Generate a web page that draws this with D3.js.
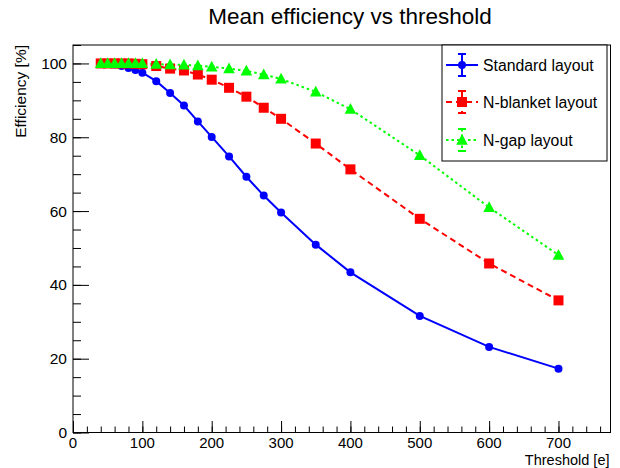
<!DOCTYPE html>
<html>
<head>
<meta charset="utf-8">
<script src="https://cdn.jsdelivr.net/npm/d3@7"></script>
<style>
  html, body { margin: 0; padding: 0; background: #fff; }
  svg { display: block; font-family: "Liberation Sans", Arial, Helvetica, sans-serif; }
</style>
</head>
<body>
<svg id="chart" width="620" height="468"></svg>
<script>
// Threshold scan points (electrons)
const thresholds = [40, 50, 60, 70, 80, 90, 100, 120, 140, 160, 180, 200, 225, 250, 275, 300, 350, 400, 500, 600, 700];

// Mean efficiency [%] per layout
const standardEff = [100, 99.9, 99.7, 99.3, 98.8, 98.2, 97.5, 95.2, 92.0, 88.6, 84.3, 80.1, 74.8, 69.3, 64.2, 59.6, 50.9, 43.4, 31.6, 23.2, 17.3];
const blanketEff  = [100, 100, 100, 100, 100, 99.9, 99.8, 99.3, 98.6, 98.1, 97.0, 95.6, 93.4, 91.0, 88.0, 85.0, 78.3, 71.3, 57.9, 45.8, 35.8];
const gapEff      = [100, 100, 100, 100, 100, 100, 100, 99.8, 99.7, 99.6, 99.4, 99.1, 98.6, 98.0, 97.0, 95.8, 92.3, 87.6, 75.1, 61.0, 48.1];

const seriesNames = ["Standard layout", "N-blanket layout", "N-gap layout"];
const xTicks = [0, 100, 200, 300, 400, 500, 600, 700];
const yTicks = [0, 20, 40, 60, 80, 100];

const series = [
  { name: seriesNames[0], values: standardEff, color: "#0000ff", dash: null,  marker: "circle" },
  { name: seriesNames[1], values: blanketEff,  color: "#ff0000", dash: "6,4", marker: "square" },
  { name: seriesNames[2], values: gapEff,      color: "#00ff00", dash: "2.5,3", marker: "triangle" }
];

const svg = d3.select("#chart");
const frame = { left: 73, right: 610.5, top: 45, bottom: 432.5 };

const x = d3.scaleLinear().domain([0, 775]).range([frame.left, frame.right]);
const y = d3.scaleLinear().domain([0, 105]).range([frame.bottom, frame.top]);

// Title
svg.append("text")
  .attr("x", 350).attr("y", 24)
  .attr("text-anchor", "middle")
  .attr("font-size", 22.5)
  .text("Mean efficiency vs threshold");

// Frame
svg.append("rect")
  .attr("x", frame.left).attr("y", frame.top)
  .attr("width", frame.right - frame.left)
  .attr("height", frame.bottom - frame.top)
  .attr("fill", "none").attr("stroke", "#000").attr("stroke-width", 1);

// X axis: ticks pointing into the frame
const xMajorLen = 11.5, xMinorLen = 6;
const xAxisG = svg.append("g").attr("transform", `translate(0,${frame.bottom})`);
xAxisG.call(d3.axisTop(x).tickValues(d3.range(0, 776, 20)).tickSize(xMinorLen).tickFormat(""))
  .call(g => g.select(".domain").remove());
xAxisG.append("g").call(d3.axisTop(x).tickValues(xTicks).tickSize(xMajorLen).tickFormat(""))
  .call(g => g.select(".domain").remove());
xAxisG.append("line").attr("x1", frame.left).attr("x2", frame.right).attr("stroke", "#000");
svg.append("g").selectAll("text").data(xTicks).join("text")
  .attr("x", d => x(d)).attr("y", 448.3)
  .attr("text-anchor", "middle").attr("font-size", 15)
  .text(d => d);

// Y axis: ticks pointing into the frame
const yMajorLen = 16, yMinorLen = 8;
const yAxisG = svg.append("g").attr("transform", `translate(${frame.left},0)`);
yAxisG.call(d3.axisRight(y).tickValues(d3.range(0, 106, 5)).tickSize(yMinorLen).tickFormat(""))
  .call(g => g.select(".domain").remove());
yAxisG.append("g").call(d3.axisRight(y).tickValues(yTicks).tickSize(yMajorLen).tickFormat(""))
  .call(g => g.select(".domain").remove());
svg.append("g").selectAll("text").data(yTicks).join("text")
  .attr("x", frame.left - 6).attr("y", d => y(d) + 5.5)
  .attr("text-anchor", "end").attr("font-size", 15.5)
  .text(d => d);

// Axis titles
svg.append("text")
  .attr("x", frame.right - 1).attr("y", 465)
  .attr("text-anchor", "end").attr("font-size", 14.5)
  .text("Threshold [e]");
svg.append("text")
  .attr("transform", `translate(26,${frame.top}) rotate(-90)`)
  .attr("text-anchor", "end").attr("font-size", 15.5)
  .text("Efficiency [%]");

// Marker drawing
function drawMarker(g, type, cx, cy, color) {
  if (type === "circle") {
    g.append("circle").attr("cx", cx).attr("cy", cy).attr("r", 4).attr("fill", color);
  } else if (type === "square") {
    g.append("rect").attr("x", cx - 5).attr("y", cy - 5).attr("width", 10).attr("height", 10).attr("fill", color);
  } else {
    const s = 5.8;
    g.append("path")
      .attr("d", `M${cx - s},${cy + s * 0.8} L${cx + s},${cy + s * 0.8} L${cx},${cy - s * 1.05} Z`)
      .attr("fill", color);
  }
}

// Series lines and markers
const line = d3.line().x((d, i) => x(thresholds[i])).y(d => y(d));
const plot = svg.append("g");
series.forEach(s => {
  plot.append("path")
    .datum(s.values)
    .attr("d", line)
    .attr("fill", "none")
    .attr("stroke", s.color)
    .attr("stroke-width", 2)
    .attr("stroke-dasharray", s.dash);
});
series.forEach(s => {
  const g = plot.append("g");
  s.values.forEach((v, i) => drawMarker(g, s.marker, x(thresholds[i]), y(v), s.color));
});

// Legend
const legend = svg.append("g");
legend.append("rect")
  .attr("x", 442).attr("y", 45).attr("width", 165).attr("height", 116)
  .attr("fill", "#fff").attr("stroke", "#000").attr("stroke-width", 1);
const legendY = [65, 102, 140];
series.forEach((s, i) => {
  const cy = legendY[i], cx = 462;
  const g = legend.append("g");
  g.append("line").attr("x1", 446).attr("x2", 478).attr("y1", cy).attr("y2", cy)
    .attr("stroke", s.color).attr("stroke-width", 2).attr("stroke-dasharray", s.dash);
  g.append("line").attr("x1", cx).attr("x2", cx).attr("y1", cy - 11).attr("y2", cy + 11)
    .attr("stroke", s.color).attr("stroke-width", 2).attr("stroke-dasharray", s.dash);
  g.append("line").attr("x1", cx - 4).attr("x2", cx + 4).attr("y1", cy - 11).attr("y2", cy - 11)
    .attr("stroke", s.color).attr("stroke-width", 2);
  g.append("line").attr("x1", cx - 4).attr("x2", cx + 4).attr("y1", cy + 11).attr("y2", cy + 11)
    .attr("stroke", s.color).attr("stroke-width", 2);
  drawMarker(g, s.marker, cx, cy, s.color);
  g.append("text").attr("x", 483).attr("y", cy + 5.5)
    .attr("font-size", 15.8).text(s.name);
});
</script>
</body>
</html>
